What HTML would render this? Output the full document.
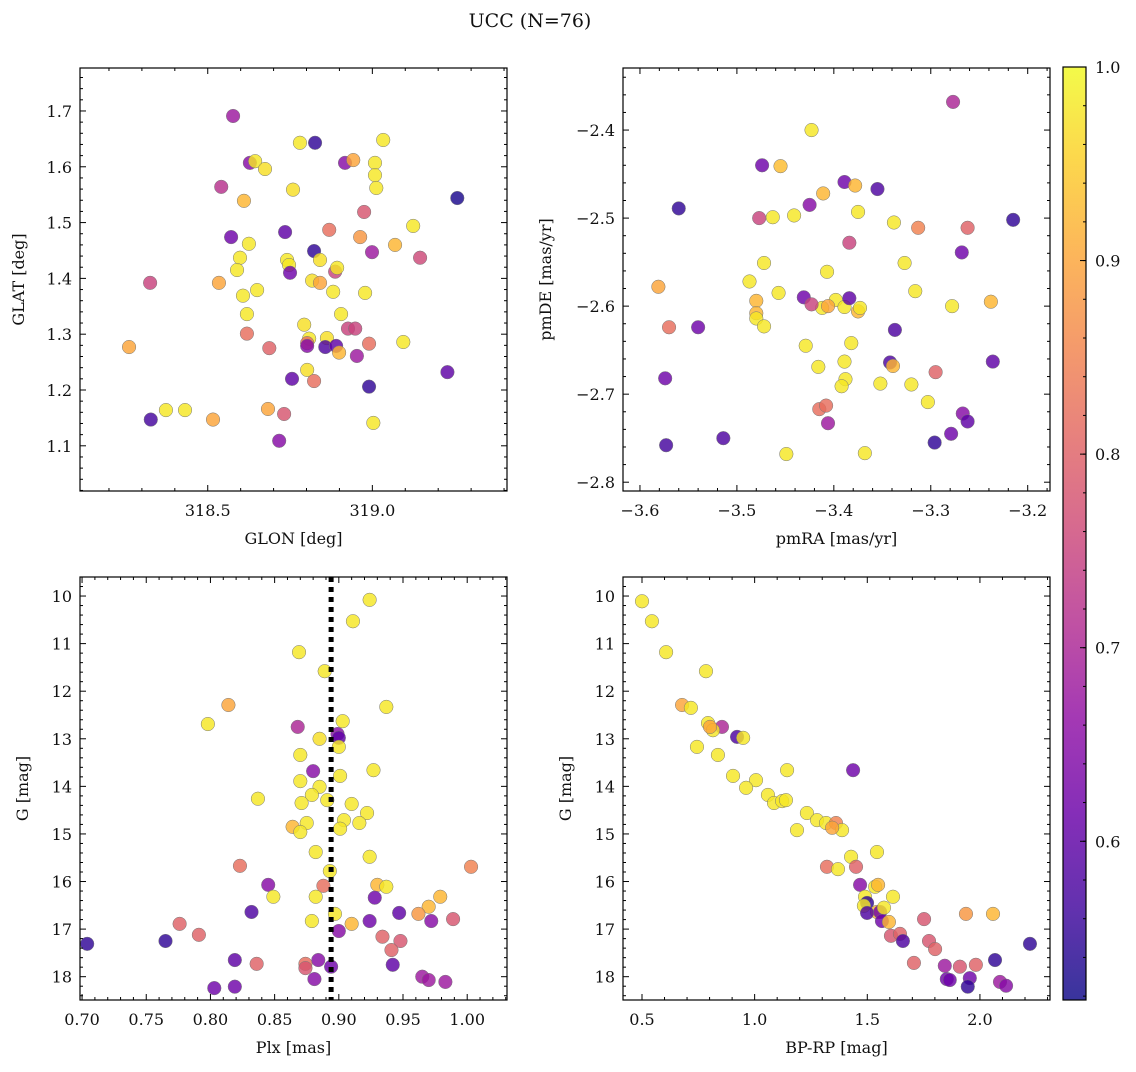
<!DOCTYPE html>
<html><head><meta charset="utf-8">
<style>
html,body{margin:0;padding:0;background:#fff;}
svg text{font-family:"DejaVu Serif","Liberation Serif",serif;fill:#111;}
</style></head>
<body>
<svg id="fig" width="1136" height="1067" xmlns="http://www.w3.org/2000/svg">
<defs>
<linearGradient id="plasma" x1="0" y1="1" x2="0" y2="0">
<stop offset="0" stop-color="#0d0887"/><stop offset="0.1" stop-color="#41049d"/><stop offset="0.2" stop-color="#6a00a8"/><stop offset="0.3" stop-color="#8f0da4"/><stop offset="0.4" stop-color="#b12a90"/><stop offset="0.5" stop-color="#cc4778"/><stop offset="0.6" stop-color="#e16462"/><stop offset="0.7" stop-color="#f2844b"/><stop offset="0.8" stop-color="#fca636"/><stop offset="0.9" stop-color="#fcce25"/><stop offset="1" stop-color="#f0f921"/>
</linearGradient>
</defs>
<text x="530" y="27" font-size="19" text-anchor="middle">UCC (N=76)</text>
</svg>
<script>
// Panel 1: GLON / GLAT
const p1Lon=[318.577,318.780,318.826,319.033,318.917,318.942,318.628,318.644,318.674,318.541,318.759,319.008,319.008,319.012,318.610,319.258,319.124,318.571,318.735,318.869,318.975,318.963,319.069,318.625,318.823,318.999,319.145,318.598,318.589,318.741,318.747,318.750,318.817,318.841,318.841,318.887,318.893,318.534,318.325,318.650,318.607,318.881,318.978,318.619,318.905,318.793,318.926,318.948,318.619,318.808,318.862,318.802,318.802,318.857,318.890,318.899,318.990,319.094,318.687,318.261,318.953,318.802,319.228,318.756,318.823,318.990,318.373,318.431,318.683,318.732,318.327,318.516,319.003,318.717];
const p1Lat=[1.691,1.643,1.643,1.648,1.607,1.612,1.607,1.610,1.596,1.564,1.559,1.607,1.585,1.562,1.539,1.544,1.494,1.474,1.483,1.487,1.519,1.474,1.460,1.462,1.449,1.447,1.437,1.437,1.415,1.433,1.424,1.410,1.396,1.433,1.392,1.412,1.419,1.392,1.392,1.379,1.369,1.376,1.374,1.336,1.336,1.317,1.310,1.310,1.301,1.292,1.293,1.284,1.279,1.277,1.279,1.267,1.283,1.286,1.275,1.277,1.261,1.236,1.232,1.220,1.216,1.206,1.164,1.164,1.166,1.157,1.147,1.147,1.141,1.109];
const p1Prob=[.68,.98,.55,.98,.65,.9,.65,.98,.97,.72,.97,.98,.98,.98,.92,.53,.98,.62,.6,.82,.78,.88,.92,.98,.55,.68,.76,.98,.98,.98,.98,.62,.97,.97,.9,.75,.98,.9,.75,.98,.98,.98,.98,.98,.98,.97,.75,.75,.82,.98,.97,.82,.65,.58,.6,.92,.82,.98,.8,.9,.68,.97,.6,.6,.82,.55,.98,.98,.9,.78,.57,.9,.98,.65];
// Panel 2: pmRA / pmDE
const p2Ra=[-3.277,-3.423,-3.474,-3.455,-3.560,-3.389,-3.378,-3.355,-3.411,-3.425,-3.463,-3.477,-3.441,-3.375,-3.215,-3.338,-3.313,-3.262,-3.384,-3.472,-3.407,-3.327,-3.268,-3.581,-3.487,-3.457,-3.480,-3.316,-3.431,-3.480,-3.480,-3.412,-3.398,-3.389,-3.384,-3.423,-3.406,-3.375,-3.373,-3.278,-3.238,-3.570,-3.540,-3.472,-3.337,-3.429,-3.382,-3.574,-3.416,-3.389,-3.342,-3.339,-3.236,-3.388,-3.392,-3.352,-3.320,-3.295,-3.303,-3.415,-3.408,-3.267,-3.262,-3.406,-3.514,-3.279,-3.296,-3.573,-3.449,-3.368];
const p2De=[-2.368,-2.400,-2.440,-2.441,-2.489,-2.459,-2.463,-2.467,-2.472,-2.485,-2.499,-2.500,-2.497,-2.493,-2.502,-2.505,-2.511,-2.511,-2.528,-2.551,-2.561,-2.551,-2.539,-2.578,-2.572,-2.585,-2.594,-2.583,-2.590,-2.608,-2.614,-2.602,-2.593,-2.601,-2.591,-2.598,-2.600,-2.606,-2.602,-2.600,-2.595,-2.624,-2.624,-2.623,-2.627,-2.645,-2.642,-2.682,-2.669,-2.663,-2.664,-2.668,-2.663,-2.683,-2.691,-2.688,-2.689,-2.675,-2.709,-2.717,-2.713,-2.722,-2.731,-2.733,-2.750,-2.745,-2.755,-2.758,-2.768,-2.767];
const p2Prob=[.7,.98,.62,.93,.55,.62,.92,.58,.92,.65,.98,.75,.98,.98,.55,.98,.85,.8,.75,.98,.98,.98,.62,.9,.98,.98,.92,.98,.62,.92,.98,.98,.98,.98,.6,.75,.9,.92,.98,.98,.92,.82,.62,.98,.58,.98,.98,.62,.98,.98,.58,.92,.6,.98,.98,.98,.98,.8,.98,.82,.82,.65,.6,.68,.58,.62,.55,.57,.98,.98];
// Panel 3: Plx / G
const p3Plx=[0.924,0.911,0.869,0.889,0.798,0.814,0.937,0.868,0.903,0.885,0.899,0.900,0.900,0.870,0.927,0.880,0.901,0.870,0.837,0.885,0.879,0.871,0.891,0.910,0.922,0.875,0.916,0.904,0.864,0.870,0.901,0.882,0.924,0.823,1.003,0.893,0.930,0.937,0.888,0.845,0.849,0.882,0.979,0.970,0.928,0.832,0.947,0.962,0.897,0.879,0.910,0.924,0.972,0.989,0.776,0.791,0.900,0.934,0.948,0.704,0.765,0.941,0.874,0.874,0.836,0.819,0.942,0.884,0.894,0.965,0.970,0.983,0.881,0.803,0.819];
const p3G=[10.08,10.53,11.18,11.58,12.69,12.29,12.33,12.75,12.63,13.00,12.90,12.98,13.17,13.34,13.66,13.68,13.78,13.89,14.26,14.01,14.18,14.35,14.29,14.37,14.56,14.77,14.77,14.71,14.85,14.96,14.89,15.38,15.48,15.67,15.69,15.78,16.07,16.11,16.09,16.07,16.32,16.32,16.32,16.53,16.34,16.64,16.66,16.68,16.68,16.83,16.89,16.83,16.83,16.79,16.89,17.12,17.04,17.16,17.25,17.31,17.25,17.44,17.73,17.82,17.73,17.65,17.75,17.65,17.79,18.00,18.07,18.11,18.05,18.24,18.21];
const p3Prob=[.98,.98,.98,.98,.98,.9,.98,.7,.98,.97,.65,.6,.98,.98,.98,.65,.98,.98,.98,.98,.98,.98,.98,.98,.98,.98,.98,.98,.92,.98,.98,.98,.98,.82,.85,.98,.92,.98,.82,.65,.98,.98,.92,.92,.62,.58,.6,.88,.98,.98,.92,.62,.65,.78,.8,.8,.65,.8,.78,.55,.55,.8,.82,.78,.8,.6,.6,.65,.62,.68,.68,.68,.65,.62,.62];
const plxMean=[0.894];
// Panel 4: BP-RP / G
const p4Col=[0.500,0.544,0.607,0.784,0.678,0.717,0.793,0.855,0.815,0.802,0.922,0.949,0.744,0.837,1.144,1.437,0.904,1.006,0.962,1.059,1.086,1.122,1.139,1.232,1.277,1.317,1.361,1.388,1.188,1.344,1.428,1.543,1.321,1.370,1.450,1.468,1.535,1.548,1.490,1.614,1.499,1.485,1.543,1.499,1.557,1.574,1.938,2.058,1.565,1.596,1.752,2.222,1.605,1.645,1.658,1.774,1.801,1.707,1.844,1.982,2.067,1.911,1.853,1.866,1.955,2.089,2.116,1.946];
const p4G=[10.11,10.53,11.18,11.58,12.29,12.35,12.67,12.75,12.82,12.75,12.96,12.98,13.17,13.34,13.66,13.66,13.78,13.87,14.03,14.18,14.35,14.31,14.29,14.56,14.71,14.77,14.77,14.92,14.92,14.87,15.48,15.38,15.69,15.74,15.69,16.07,16.11,16.07,16.32,16.32,16.45,16.51,16.64,16.66,16.64,16.55,16.68,16.68,16.83,16.85,16.79,17.31,17.14,17.10,17.25,17.25,17.42,17.71,17.77,17.75,17.65,17.79,18.05,18.07,18.03,18.11,18.19,18.21];
const p4Prob=[.98,.98,.98,.98,.9,.98,.98,.7,.98,.9,.58,.98,.98,.98,.98,.62,.98,.98,.98,.98,.98,.98,.98,.98,.98,.98,.85,.98,.98,.9,.98,.98,.82,.98,.8,.65,.98,.92,.98,.98,.55,.98,.92,.58,.62,.98,.88,.92,.62,.92,.78,.55,.78,.8,.58,.78,.8,.8,.68,.8,.55,.78,.62,.62,.62,.68,.65,.55];
const cbTicks=[0.6,0.7,0.8,0.9,1.0];

const NS='http://www.w3.org/2000/svg';
const svg=document.getElementById('fig');
const PMIN=0.518,PMAX=1.0;
const stops=[[13,8,135],[65,4,157],[106,0,168],[143,13,164],[177,42,144],[204,71,120],[225,100,98],[242,132,75],[252,166,54],[252,206,37],[240,249,33]];
function plasma(p){let t=(p-PMIN)/(PMAX-PMIN);t=Math.max(0,Math.min(1,t))*10;const i=Math.min(9,Math.floor(t)),f=t-i;const a=stops[i],b=stops[i+1];return 'rgb('+a.map((v,k)=>Math.round(v+(b[k]-v)*f)).join(',')+')';}
function el(tag,attrs,parent){const e=document.createElementNS(NS,tag);for(const k in attrs)e.setAttribute(k,attrs[k]);(parent||svg).appendChild(e);return e;}
function fmt(v,d){const s=Math.abs(v).toFixed(d);return (v<-1e-9?'\u2212':'')+s;}

function panel(o){
  const g=el('g',{});
  
  
  const sx=v=>o.x0+(v-o.xmin)/(o.xmax-o.xmin)*(o.x1-o.x0);
  const sy=o.yinv? (v=>o.y0+(v-o.ymin)/(o.ymax-o.ymin)*(o.y1-o.y0)) : (v=>o.y1-(v-o.ymin)/(o.ymax-o.ymin)*(o.y1-o.y0));
  const pts=el('g',{},g);
  
  
  for(let i=0;i<o.xs.length;i++){
    const c=el('circle',{cx:sx(o.xs[i]),cy:sy(o.ys[i]),r:6.8,fill:plasma(o.ps[i]),'fill-opacity':0.82,stroke:'#777','stroke-width':0.5},pts);
    
    
  }
  if(o.extra)o.extra(g,sx,sy);
  const fr=el('rect',{x:o.x0,y:o.y0,width:o.x1-o.x0,height:o.y1-o.y0,fill:'none',stroke:'#000','stroke-width':1.2},g);
  
  
  const tk=el('g',{stroke:'#000','stroke-width':1},g);
  
  
  const eps=1e-6;
  for(let v=Math.ceil(o.xmin/o.xminor-eps)*o.xminor;v<=o.xmax+eps;v+=o.xminor){
    const X=sx(v);const major=Math.abs(v/o.xmajor-Math.round(v/o.xmajor))<1e-4;const L=major?6:3;
    el('line',{x1:X,x2:X,y1:o.y1,y2:o.y1-L},tk);el('line',{x1:X,x2:X,y1:o.y0,y2:o.y0+L},tk);
    if(major){const t=el('text',{x:X,y:o.y1+25,'font-size':16,'text-anchor':'middle',stroke:'none'},g);t.textContent=fmt(Math.round(v/o.xmajor)*o.xmajor,o.xd);
      }
  }
  for(let v=Math.ceil(o.ymin/o.yminor-eps)*o.yminor;v<=o.ymax+eps;v+=o.yminor){
    const Y=sy(v);const major=Math.abs(v/o.ymajor-Math.round(v/o.ymajor))<1e-4;const L=major?6:3;
    el('line',{x1:o.x0,x2:o.x0+L,y1:Y,y2:Y},tk);el('line',{x1:o.x1,x2:o.x1-L,y1:Y,y2:Y},tk);
    if(major){const t=el('text',{x:o.x0-8,y:Y+6,'font-size':16,'text-anchor':'end',stroke:'none'},g);t.textContent=fmt(Math.round(v/o.ymajor)*o.ymajor,o.yd);
      }
  }
  const xl=el('text',{x:(o.x0+o.x1)/2,y:o.y1+53,'font-size':16,'text-anchor':'middle'},g);xl.textContent=o.xlabel;
  
  const yx=o.ylx,yy=(o.y0+o.y1)/2;
  const yl=el('text',{x:yx,y:yy,'font-size':16,'text-anchor':'middle',transform:'rotate(-90 '+yx+' '+yy+')'},g);yl.textContent=o.ylabel;
  
}

panel({name:'glon-glat-panel',x0:80,x1:507,y0:68,y1:491,xmin:318.112,xmax:319.409,ymin:1.019,ymax:1.777,xs:p1Lon,ys:p1Lat,ps:p1Prob,xmajor:0.5,xminor:0.1,ymajor:0.1,yminor:0.02,xd:1,yd:1,xlabel:'GLON [deg]',ylabel:'GLAT [deg]',ylx:24});
panel({name:'proper-motion-panel',x0:623,x1:1050,y0:68,y1:491,xmin:-3.6175,xmax:-3.177,ymin:-2.810,ymax:-2.3295,xs:p2Ra,ys:p2De,ps:p2Prob,xmajor:0.1,xminor:0.02,ymajor:0.1,yminor:0.02,xd:1,yd:1,xlabel:'pmRA [mas/yr]',ylabel:'pmDE [mas/yr]',ylx:551});
panel({name:'plx-g-panel',x0:80,x1:507,y0:577,y1:1000,xmin:0.6984,xmax:1.031,ymin:9.60,ymax:18.49,yinv:true,xs:p3Plx,ys:p3G,ps:p3Prob,xmajor:0.05,xminor:0.01,ymajor:1,yminor:0.2,xd:2,yd:0,xlabel:'Plx [mas]',ylabel:'G [mag]',ylx:28,
  extra:(g,sx,sy)=>{const l=el('line',{x1:sx(plxMean[0]),x2:sx(plxMean[0]),y1:577,y2:1000,stroke:'#000','stroke-width':5,'stroke-dasharray':'5,5'},g);
    }});
panel({name:'cmd-panel',x0:623,x1:1050,y0:577,y1:1000,xmin:0.4157,xmax:2.311,ymin:9.60,ymax:18.49,yinv:true,xs:p4Col,ys:p4G,ps:p4Prob,xmajor:0.5,xminor:0.1,ymajor:1,yminor:0.2,xd:1,yd:0,xlabel:'BP-RP [mag]',ylabel:'G [mag]',ylx:571});

const cb=el('g',{});


const CX0=1063,CX1=1086,CY0=67,CY1=1000;
el('rect',{x:CX0,y:CY0,width:CX1-CX0,height:CY1-CY0,fill:'url(#plasma)','fill-opacity':0.82},cb);
el('rect',{x:CX0,y:CY0,width:CX1-CX0,height:CY1-CY0,fill:'none',stroke:'#000','stroke-width':1.2},cb);
const cy=v=>CY1-(v-PMIN)/(PMAX-PMIN)*(CY1-CY0);
for(let v=0.52;v<=1.0001;v+=0.02){const Y=cy(v);el('line',{x1:CX1,x2:CX1-3,y1:Y,y2:Y,stroke:'#000','stroke-width':1},cb);}
cbTicks.forEach(v=>{const Y=cy(v);el('line',{x1:CX1,x2:CX1-6,y1:Y,y2:Y,stroke:'#000','stroke-width':1},cb);
  const t=el('text',{x:CX1+9,y:Y+6,'font-size':16},cb);t.textContent=v.toFixed(1);
  });
</script>
</body></html>
